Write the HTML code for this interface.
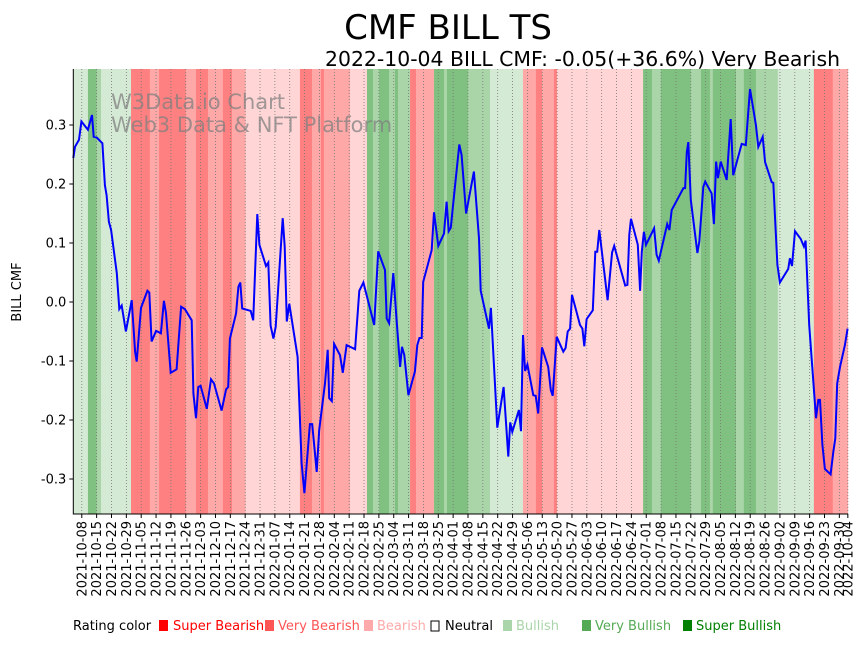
<!DOCTYPE html>
<html><head><meta charset="utf-8">
<style>
body{margin:0;background:#fff;font-family:"Liberation Sans","DejaVu Sans",sans-serif;}
svg text{font-family:"DejaVu Sans","Liberation Sans",sans-serif;}
</style></head>
<body>
<svg id="chart" width="867" height="641" viewBox="0 0 867 641" xmlns="http://www.w3.org/2000/svg">
<text x="448" y="39" font-size="34" text-anchor="middle" fill="#000">CMF BILL TS</text>
<text x="840" y="66" font-size="20.4" text-anchor="end" fill="#000">2022-10-04 BILL CMF: -0.05(+36.6%) Very Bearish</text>
<g id="bands"></g>
<g id="grid"></g>
<text x="111" y="109" font-size="21" fill="rgba(128,128,128,0.75)">W3Data.io Chart</text>
<text x="111" y="132" font-size="21" fill="rgba(128,128,128,0.75)">Web3 Data &amp; NFT Platform</text>
<path id="line" fill="none" stroke="#0000ff" stroke-width="2"/>
<g id="axes"></g>
<text transform="translate(21,292) rotate(-90)" font-size="13" text-anchor="middle">BILL CMF</text>
<g font-size="13">
<text x="73" y="630" fill="#000">Rating color</text>
<rect x="159" y="620" width="9" height="11" fill="#ff0000"/><text x="173" y="630" fill="#ff0000">Super Bearish</text>
<rect x="265" y="620" width="9" height="11" fill="#ff5555"/><text x="278" y="630" fill="#ff5555">Very Bearish</text>
<rect x="364" y="620" width="9" height="11" fill="#ffaaaa"/><text x="377" y="630" fill="#ffaaaa">Bearish</text>
<rect x="431" y="621" width="8" height="10" fill="none" stroke="#000"/><text x="445" y="630" fill="#000">Neutral</text>
<rect x="503" y="620" width="9" height="11" fill="#aad5aa"/><text x="516" y="630" fill="#aad5aa">Bullish</text>
<rect x="582" y="620" width="9" height="11" fill="#55aa55"/><text x="595" y="630" fill="#55aa55">Very Bullish</text>
<rect x="683" y="620" width="9" height="11" fill="#008000"/><text x="696" y="630" fill="#008000">Super Bullish</text>
</g>
</svg>
<script>
const dayOffsets=[0,0.8,2.7,3.8,6.9,8.8,9.6,11.0,13.7,14.9,15.7,16.8,17.8,20.5,21.7,22.8,24.8,27.5,29.1,29.9,31.9,34.9,35.8,36.9,39.0,41.3,42.7,43.7,45.9,48.7,50.8,52.6,55.8,56.6,57.8,58.9,60.0,62.9,64.9,66.3,69.9,72.0,73.0,73.8,76.7,77.8,78.7,79.6,83.6,84.8,86.7,87.7,90.8,91.9,93.0,94.3,95.4,98.7,99.6,100.6,101.8,105.7,107.6,108.9,111.5,112.6,114.7,115.9,118.6,119.9,120.6,121.8,122.9,125.7,127.0,128.8,132.8,134.8,136.7,141.8,143.7,146.9,147.7,148.8,150.8,152.1,154.0,154.9,156.0,157.9,161.0,162.1,163.1,164.2,164.9,168.9,170.0,172.0,174.7,175.9,176.9,177.9,179.1,181.9,183.0,185.1,188.8,191.2,192.0,195.9,196.8,199.8,202.8,205.0,205.9,206.9,210.0,211.0,211.9,212.9,214.0,216.8,217.9,219.1,220.9,223.8,225.0,225.9,227.8,230.9,232.0,233.0,234.1,235.0,238.8,239.9,240.8,241.9,244.8,246.0,246.9,247.9,251.8,253.9,254.9,260.1,261.1,262.0,262.8,266.0,267.1,267.9,268.9,269.9,273.7,274.9,275.9,279.9,280.9,282.0,287.5,288.3,289.1,289.8,291.0,294.1,295.0,296.9,297.8,300.8,301.9,302.9,303.8,305.1,307.9,309.8,311.0,315.0,316.9,318.9,321.7,322.8,324.9,326.0,329.1,329.9,331.8,333.0,336.9,337.7,338.7,340.1,342.8,344.3,345.1,346.8,350.0,351.1,351.9,353.0,354.2,356.9,358.2,359.1,360.0,361.3,363.6,364.9];
const cmfValues=[0.244,0.263,0.275,0.306,0.292,0.317,0.280,0.279,0.269,0.198,0.181,0.136,0.122,0.049,-0.012,-0.006,-0.050,0.003,-0.084,-0.101,-0.010,0.019,0.016,-0.067,-0.049,-0.053,0.002,-0.019,-0.120,-0.114,-0.008,-0.012,-0.031,-0.155,-0.197,-0.144,-0.142,-0.181,-0.131,-0.138,-0.184,-0.148,-0.144,-0.062,-0.019,0.026,0.033,-0.011,-0.015,-0.031,0.149,0.097,0.061,0.067,-0.040,-0.062,-0.042,0.142,0.094,-0.033,-0.003,-0.093,-0.273,-0.324,-0.207,-0.207,-0.288,-0.217,-0.138,-0.081,-0.163,-0.168,-0.071,-0.090,-0.120,-0.073,-0.080,0.019,0.033,-0.039,0.086,0.054,-0.028,-0.036,0.049,-0.019,-0.110,-0.076,-0.090,-0.158,-0.118,-0.073,-0.061,-0.061,0.034,0.088,0.152,0.095,0.116,0.170,0.120,0.126,0.170,0.267,0.249,0.150,0.221,0.108,0.019,-0.045,-0.010,-0.213,-0.144,-0.262,-0.204,-0.220,-0.183,-0.219,-0.056,-0.117,-0.106,-0.158,-0.159,-0.189,-0.077,-0.110,-0.149,-0.159,-0.059,-0.084,-0.078,-0.050,-0.045,0.012,-0.039,-0.045,-0.075,-0.029,-0.014,0.085,0.085,0.122,0.003,0.084,0.095,0.028,0.029,0.114,0.141,0.097,0.019,0.085,0.119,0.097,0.125,0.080,0.070,0.132,0.122,0.156,0.193,0.193,0.254,0.271,0.173,0.083,0.102,0.195,0.204,0.184,0.132,0.238,0.210,0.238,0.207,0.310,0.215,0.268,0.266,0.361,0.300,0.263,0.280,0.237,0.203,0.202,0.063,0.033,0.056,0.074,0.061,0.120,0.107,0.094,0.104,-0.039,-0.197,-0.166,-0.166,-0.242,-0.283,-0.292,-0.253,-0.231,-0.138,-0.110,-0.073,-0.045];
const bandStarts=[0,6.9,11.0,13.1,27.2,36.1,40.4,53.0,57.8,63.5,70.5,74.8,81.2,106.8,112.5,116.7,118.1,130.4,138.4,141.2,144.1,148.8,151.6,153.0,158.7,161.5,170.0,174.7,176.1,186.0,196.4,211.9,218.0,220.9,226.5,227.9,268.5,272.7,276.9,291.0,295.8,300.0,301.4,312.3,316.0,321.7,332.0,349.0,357.9,365];
const bandRatings=[1,3,2,1,-3,-2,-3,-2,-3,-2,-3,-2,-1,-3,-2,-3,-2,-1,3,2,3,2,3,2,-3,-2,3,2,3,2,1,-2,-3,-2,-3,-1,3,2,3,2,3,2,3,2,3,2,1,-3,-2];
const yTicks=[-0.3,-0.2,-0.1,0.0,0.1,0.2,0.3];
const startDate=new Date(Date.UTC(2021,9,4));
const X0=73.3,PX=2.122,TOP=69,BOT=514;
const xs=d=>X0+d*PX;
const ys=v=>302-v*590;
const NS="http://www.w3.org/2000/svg";
const colors={"-3":"#ff8080","-2":"#ffa8a8","-1":"#ffd5d5","0":"#ffffff","1":"#d5ead5","2":"#a9d5a9","3":"#80c080"};
const bands=document.getElementById('bands');
for(let i=0;i<bandRatings.length;i++){
  const r=document.createElementNS(NS,'rect');
  
  
  const x1=xs(bandStarts[i]),x2=xs(bandStarts[i+1]);
  r.setAttribute('x',x1);r.setAttribute('y',TOP);
  r.setAttribute('width',Math.max(0,x2-x1)+0.3);r.setAttribute('height',BOT-TOP);
  r.setAttribute('fill',colors[bandRatings[i]]);
  bands.appendChild(r);
}
const grid=document.getElementById('grid'),axes=document.getElementById('axes');
const tickDays=[];for(let d=4;d<=361;d+=7)tickDays.push(d);tickDays.push(365);
function fmt(d){const t=new Date(startDate.getTime()+d*86400000);return t.toISOString().slice(0,10);}
tickDays.forEach(d=>{
  const x=xs(d);
  const g=document.createElementNS(NS,'line');
  
  
  g.setAttribute('x1',x);g.setAttribute('x2',x);g.setAttribute('y1',TOP);g.setAttribute('y2',BOT);
  g.setAttribute('stroke','#777');g.setAttribute('stroke-width','0.8');g.setAttribute('stroke-dasharray','1,2');
  grid.appendChild(g);
  const tk=document.createElementNS(NS,'line');
  
  
  tk.setAttribute('x1',x);tk.setAttribute('x2',x);tk.setAttribute('y1',BOT);tk.setAttribute('y2',BOT+4);tk.setAttribute('stroke','#000');
  axes.appendChild(tk);
  const t=document.createElementNS(NS,'text');
  
  
  t.setAttribute('transform','translate('+(x+4.5)+','+(BOT+7)+') rotate(-90)');
  t.setAttribute('font-size','13');t.setAttribute('text-anchor','end');
  t.textContent=fmt(d);
  axes.appendChild(t);
});
yTicks.forEach(v=>{
  const y=ys(v);
  const tk=document.createElementNS(NS,'line');
  
  
  tk.setAttribute('x1',X0-4);tk.setAttribute('x2',X0);tk.setAttribute('y1',y);tk.setAttribute('y2',y);tk.setAttribute('stroke','#000');
  axes.appendChild(tk);
  const t=document.createElementNS(NS,'text');
  
  
  t.setAttribute('x',X0-7);t.setAttribute('y',y+4.5);t.setAttribute('font-size','13');t.setAttribute('text-anchor','end');
  t.textContent=v.toFixed(1);
  axes.appendChild(t);
});
const sp=document.createElementNS(NS,'path');


sp.setAttribute('d','M'+X0+' '+TOP+' V'+BOT+' H'+xs(365));
sp.setAttribute('stroke','#000');sp.setAttribute('fill','none');sp.setAttribute('stroke-width','1');
axes.appendChild(sp);
let d='';
for(let i=0;i<dayOffsets.length;i++){d+=(i?'L':'M')+xs(dayOffsets[i]).toFixed(1)+' '+ys(cmfValues[i]).toFixed(1);}
document.getElementById('line').setAttribute('d',d);
</script>
</body></html>
